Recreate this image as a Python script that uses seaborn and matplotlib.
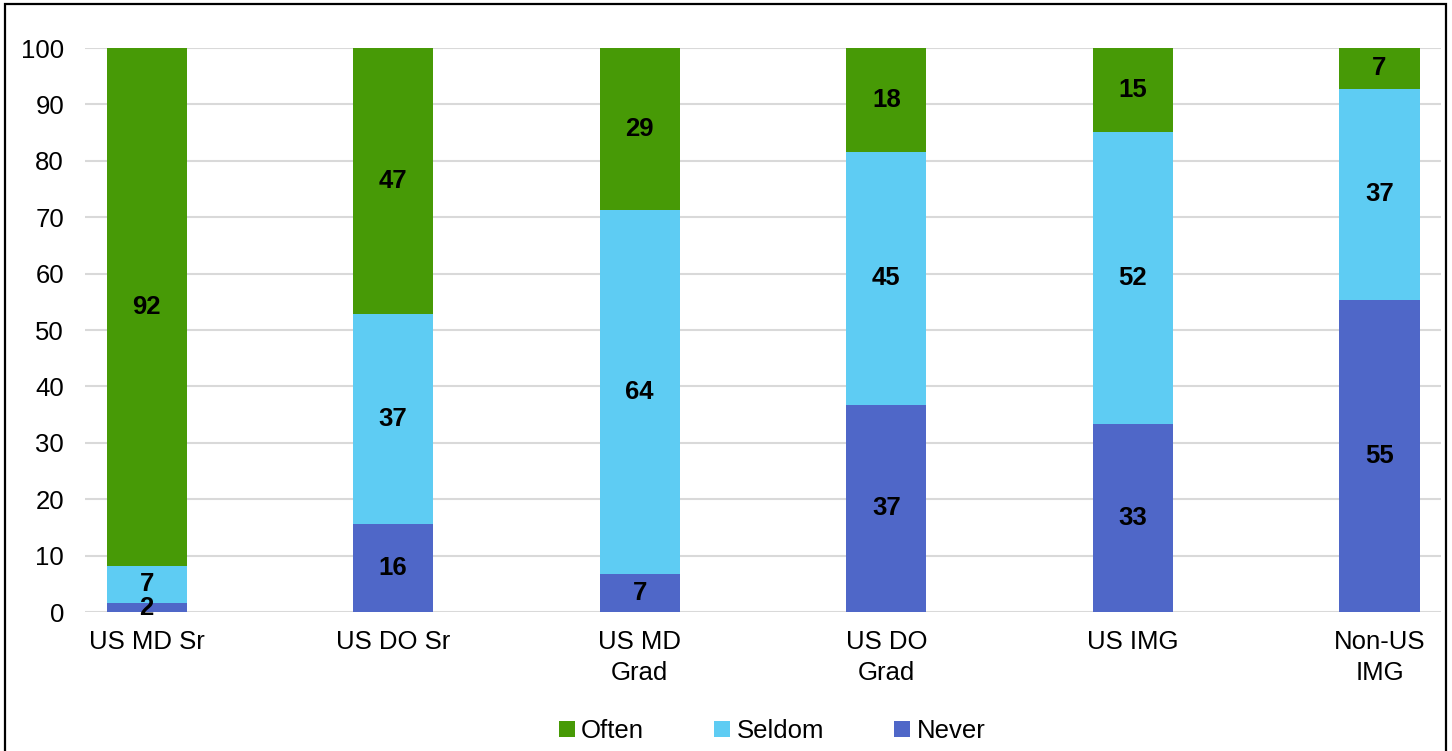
import matplotlib.pyplot as plt
import matplotlib.patches as mpatches
from matplotlib.lines import Line2D
import seaborn as sns
import numpy as np
import pandas as pd

categories = ['US MD Sr', 'US DO Sr', 'US MD\nGrad', 'US DO\nGrad', 'US IMG', 'Non-US\nIMG']
never = [1.6, 15.6, 6.8, 36.8, 33.4, 55.4]
seldom = [6.6, 37.2, 64.4, 44.7, 51.8, 37.4]
often = [91.8, 47.2, 28.8, 18.5, 14.8, 7.2]

series_names = ['Often', 'Seldom', 'Never']
palette = {'Often': '#479A06', 'Seldom': '#5ECCF3', 'Never': '#4F67C8'}


def main():
    sns.set_style('white')
    plt.rcParams['font.family'] = ['Liberation Sans', 'DejaVu Sans']
    plt.rcParams['text.color'] = 'black'
    plt.rcParams['xtick.color'] = 'black'
    plt.rcParams['ytick.color'] = 'black'

    df = pd.DataFrame({'cat': categories, 'Never': never,
                       'Seldom': seldom, 'Often': often})
    df['c_never'] = df['Never']
    df['c_seldom'] = df['Never'] + df['Seldom']
    df['c_often'] = df['c_seldom'] + df['Often']

    fig = plt.figure(figsize=(14.52, 7.51), dpi=100)
    ax = fig.add_axes([0.0585, 0.185, 0.934, 0.751])

    # layered cumulative bars, tallest first
    for col, name in [('c_often', 'Often'), ('c_seldom', 'Seldom'), ('c_never', 'Never')]:
        sns.barplot(data=df, x='cat', y=col, color=palette[name], width=0.325,
                    saturation=1, ax=ax, zorder=2, linewidth=0)

    # segment labels
    x = np.arange(len(categories))
    for lo, hi, vals in [(np.zeros(6), df['c_never'], never),
                         (df['c_never'], df['c_seldom'], seldom),
                         (df['c_seldom'], df['c_often'], often)]:
        for xi, a, b, v in zip(x, lo, hi, vals):
            ax.text(xi, (a + b) / 2, f'{v:.0f}', ha='center', va='center',
                    fontsize=18.5, fontweight='bold', color='black', zorder=3)

    ax.set_ylim(0, 100)
    ax.set_xlim(-0.25, 5.25)
    ax.set_yticks(range(0, 101, 10))
    ax.yaxis.grid(True, color='#d9d9d9', linewidth=1.5, zorder=0)
    ax.set_axisbelow(True)
    for s in ax.spines.values():
        s.set_visible(False)
    ax.tick_params(axis='both', length=0, labelsize=18.5, labelcolor='black')
    ax.tick_params(axis='y', pad=15)
    ax.tick_params(axis='x', pad=13)
    for lbl in ax.get_xticklabels():
        lbl.set_linespacing(1.35)
    ax.set_xlabel('')
    ax.set_ylabel('')

    handles = [Line2D([], [], marker='s', linestyle='none', markersize=12,
                      markerfacecolor=palette[n], markeredgewidth=0, label=n)
               for n in series_names]
    fig.legend(handles=handles, loc='center', bbox_to_anchor=(0.531, 0.027),
               ncol=3, frameon=False, fontsize=18.5, columnspacing=2.65,
               handletextpad=0.15, handlelength=0.8)

    border = mpatches.Rectangle((0.0034, -0.02), 0.9925, 1.0147, transform=fig.transFigure,
                                fill=False, edgecolor='black', linewidth=1.6)
    fig.patches.append(border)

    fig.savefig('out.png', dpi=100, facecolor='white')


if __name__ == '__main__':
    main()
